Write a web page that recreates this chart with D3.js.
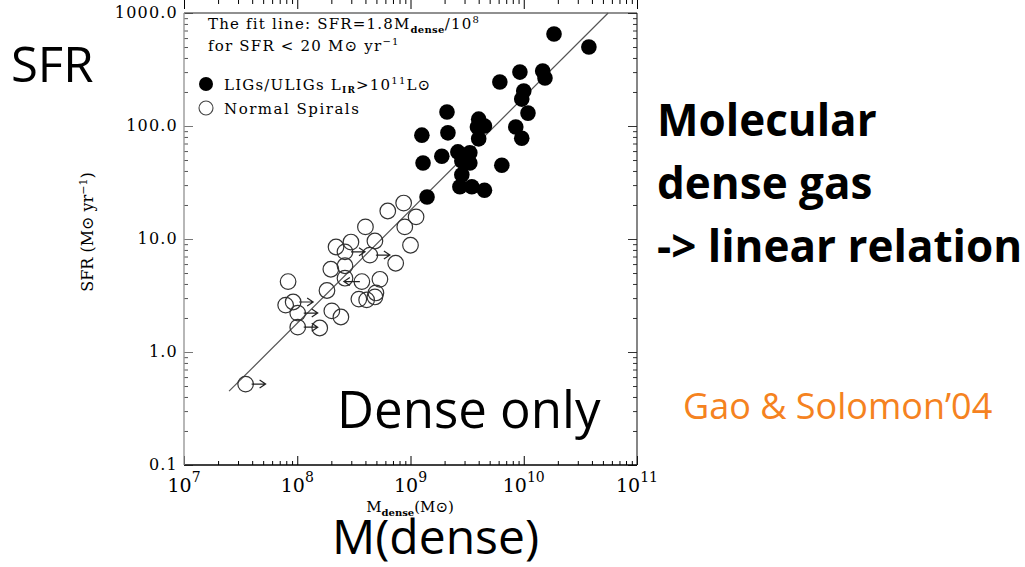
<!DOCTYPE html>
<html>
<head>
<meta charset="utf-8">
<script src="https://cdn.jsdelivr.net/npm/d3@7"></script>
<style>
body { margin: 0; background: #fff; }
svg { display: block; }
</style>
</head>
<body>
<svg id="chart" width="1025" height="567"></svg>
<script>
// LIGs / ULIGs (filled dots)
var ligMass = [1.85e10, 3.76e10, 9.25e9, 1.47e10, 1.54e10, 6.15e9, 1.0e10, 9.6e9, 1.09e10, 2.1e9,
               1.26e9, 2.14e9, 4.0e9, 3.9e9, 4.5e9, 4.0e9, 8.5e9, 9.6e9, 1.29e9, 1.89e9,
               2.62e9, 3.34e9, 2.84e9, 3.34e9, 6.4e9, 2.84e9, 2.73e9, 3.48e9, 4.5e9, 1.40e9];
var ligSfr  = [652, 500, 300, 307, 266, 245, 204, 173, 130, 133,
               83, 87, 115, 98, 100, 77, 98, 78, 47, 54,
               59, 58, 49, 47, 45, 37, 29, 29, 27, 23.5];

// normal spirals (open circles); arrow: 1 = lower limit (points right), -1 = points left
var spiralMass = [8.7e8, 6.3e8, 1.12e9, 8.9e8, 4.0e8, 1.0e9, 2.98e8, 2.2e8, 4.85e8, 2.64e8,
                  4.38e8, 7.4e8, 1.98e8, 2.64e8, 2.64e8, 3.72e8, 5.37e8, 8.3e7, 1.83e8, 3.5e8,
                  4.1e8, 4.85e8, 4.95e8, 7.9e7, 9.2e7, 1.01e8, 2.02e8, 2.43e8, 1.01e8, 1.58e8, 3.5e7];
var spiralSfr  = [20.8, 17.7, 15.7, 12.8, 12.8, 8.8, 9.4, 8.5, 9.6, 7.7,
                  7.2, 6.1, 5.4, 5.8, 4.5, 4.2, 4.4, 4.2, 3.5, 2.94,
                  2.89, 3.07, 3.33, 2.6, 2.77, 2.21, 2.31, 2.04, 1.66, 1.63, 0.52];
var spiralArrow = [0, 0, 0, 0, 0, 0, 0, 0, 0, 1,
                   1, 0, 0, 0, 0, -1, 0, 0, 0, 0,
                   0, 0, 0, 0, 1, 1, 0, 0, 1, 0, 1];

var xTickExps = [7, 8, 9, 10, 11];
var yTickVals = [0.1, 1, 10, 100, 1000];
var yTickLabels = ['0.1', '1.0', '10.0', '100.0', '1000.0'];

// fit: SFR = 1.8 Mdense / 1e8
var fitSlope = 1.8e-8;
var fitMass = [2.5e7, 5.56e10];

var svg = d3.select('#chart');
var serif = '"DejaVu Serif", "Liberation Serif", serif';
var sans = '"Open Sans", "Noto Sans", sans-serif';

var x = d3.scaleLog().domain([1e7, 1e11]).range([184, 637]);
var y = d3.scaleLog().domain([0.1, 1000]).range([465, 13]);

function minorTicks(lo, hi) {
    var out = [];
    for (var e = lo; e < hi; e++)
        for (var k = 2; k <= 9; k++) out.push(k * Math.pow(10, e));
    return out;
}
var xMajor = xTickExps.map(function(e) { return Math.pow(10, e); });
var xMinor = minorTicks(7, 11);
var yMinor = minorTicks(-1, 3);

function drawAxis(axisFn, scale, vals, size, tr, col) {
    var g = svg.append('g').attr('transform', tr)
        .call(axisFn(scale).tickValues(vals).tickSize(size).tickFormat(''));
    g.select('.domain').remove();
    g.selectAll('line').attr('stroke', col).attr('stroke-width', 1);
}

var bottom = 'translate(0,465)', top = 'translate(0,13)';
var left = 'translate(184,0)', right = 'translate(637,0)';
drawAxis(d3.axisBottom, x, xMajor, -9, bottom, '#000');
drawAxis(d3.axisBottom, x, xMinor, -4, bottom, '#000');
drawAxis(d3.axisTop, x, xMajor, -9, top, '#000');
drawAxis(d3.axisTop, x, xMinor, -4, top, '#000');
drawAxis(d3.axisLeft, y, yTickVals, -9, left, '#777');
drawAxis(d3.axisLeft, y, yMinor, -4, left, '#555');
drawAxis(d3.axisRight, y, yTickVals, -9, right, '#333');
drawAxis(d3.axisRight, y, yMinor, -4, right, '#333');

// frame
svg.append('line').attr('x1', 184).attr('x2', 637).attr('y1', 465).attr('y2', 465).attr('stroke', '#000').attr('stroke-width', 1.3);
svg.append('line').attr('x1', 184).attr('x2', 637).attr('y1', 13).attr('y2', 13).attr('stroke', '#222').attr('stroke-width', 1.1);
svg.append('line').attr('x1', 184).attr('x2', 184).attr('y1', 13).attr('y2', 465).attr('stroke', '#999').attr('stroke-width', 1.4);
svg.append('line').attr('x1', 637).attr('x2', 637).attr('y1', 13).attr('y2', 465).attr('stroke', '#222').attr('stroke-width', 1.1);

// y tick labels
svg.selectAll('.ylab').data(yTickVals).enter().append('text')
    .attr('x', 178).attr('y', function(d) { return y(d) + 5; })
    .attr('text-anchor', 'end')
    .style('font-family', serif).style('font-size', '16px').style('letter-spacing', '1.2px')
    .text(function(d, i) { return yTickLabels[i]; });

// x tick labels: 10^n
var xl = svg.selectAll('.xlab').data(xTickExps).enter().append('text')
    .attr('x', function(d) { return x(Math.pow(10, d)); }).attr('y', 492)
    .attr('text-anchor', 'middle')
    .style('font-family', serif).style('font-size', '19px');
xl.append('tspan').text('10');
xl.append('tspan').attr('dy', -10).style('font-size', '14px').text(function(d) { return d; });

// axis titles
var xt = svg.append('text').attr('x', 410).attr('y', 512).attr('text-anchor', 'middle')
    .style('font-family', serif).style('font-size', '15px');
xt.append('tspan').text('M');
xt.append('tspan').attr('dy', 4).style('font-size', '10px').style('font-weight', 'bold').text('dense');
xt.append('tspan').attr('dy', -4).text('(M\u2299)');

var yt = svg.append('text').attr('transform', 'translate(93,232) rotate(-90)').attr('text-anchor', 'middle')
    .style('font-family', serif).style('font-size', '16px');
yt.append('tspan').text('SFR (M\u2299 yr');
yt.append('tspan').attr('dy', -6).style('font-size', '11px').text('\u22121');
yt.append('tspan').attr('dy', 6).text(')');

// fit line
svg.append('line')
    .attr('x1', x(fitMass[0])).attr('y1', y(fitSlope * fitMass[0]))
    .attr('x2', x(fitMass[1])).attr('y2', y(fitSlope * fitMass[1]))
    .attr('stroke', '#555').attr('stroke-width', 1.2);

// spirals
var spirals = spiralMass.map(function(m, i) { return { m: m, s: spiralSfr[i], a: spiralArrow[i] }; });
svg.selectAll('.sp').data(spirals).enter().append('circle')
    .attr('cx', function(d) { return x(d.m); }).attr('cy', function(d) { return y(d.s); })
    .attr('r', 7.8).attr('fill', 'none').attr('stroke', '#333').attr('stroke-width', 1.2);

svg.selectAll('.arr').data(spirals.filter(function(d) { return d.a !== 0; })).enter().append('path')
    .attr('d', function(d) {
        var cx = x(d.m), cy = y(d.s);
        var x0 = d.a > 0 ? cx + 6 : cx - 2;
        var x1 = d.a > 0 ? cx + 20 : cx - 18;
        var h = d.a > 0 ? -6 : 6;
        return 'M' + x0 + ',' + cy + 'L' + x1 + ',' + cy +
            'M' + (x1 + h) + ',' + (cy - 4) + 'L' + x1 + ',' + cy + 'L' + (x1 + h) + ',' + (cy + 4);
    })
    .attr('fill', 'none').attr('stroke', '#222').attr('stroke-width', 1.2);

// LIGs
svg.selectAll('.lig').data(ligMass).enter().append('circle')
    .attr('cx', function(d) { return x(d); }).attr('cy', function(d, i) { return y(ligSfr[i]); })
    .attr('r', 7.8).attr('fill', '#000');

// legend
function legendText(yy) {
    return svg.append('text').attr('x', 208).attr('y', yy)
        .style('font-family', serif).style('font-size', '15px').style('letter-spacing', '1.2px');
}
var l1 = legendText(29);
l1.append('tspan').text('The fit line: SFR=1.8M');
l1.append('tspan').attr('dy', 4).style('font-size', '10px').style('font-weight', 'bold').style('letter-spacing', '0.3px').text('dense');
l1.append('tspan').attr('dy', -4).text('/10');
l1.append('tspan').attr('dy', -6).style('font-size', '10px').text('8');

var l2 = legendText(51);
l2.append('tspan').text('for SFR < 20 M\u2299 yr');
l2.append('tspan').attr('dy', -6).style('font-size', '10px').text('\u22121');

svg.append('circle').attr('cx', 206).attr('cy', 84).attr('r', 7).attr('fill', '#000');
var l3 = legendText(90).attr('x', 224);
l3.append('tspan').text('LIGs/ULIGs L');
l3.append('tspan').attr('dy', 3).style('font-size', '9px').style('font-weight', 'bold').text('IR');
l3.append('tspan').attr('dy', -3).text('>10');
l3.append('tspan').attr('dy', -6).style('font-size', '10px').text('11');
l3.append('tspan').attr('dy', 6).text('L\u2299');

svg.append('circle').attr('cx', 206).attr('cy', 108).attr('r', 7).attr('fill', 'none').attr('stroke', '#444').attr('stroke-width', 1.1);
legendText(114).attr('x', 224).style('letter-spacing', '1.5px').text('Normal Spirals');

// slide annotations
svg.append('text').attr('x', 11).attr('y', 82).style('font-family', sans).style('font-size', '49px').text('SFR');
var mol = ['Molecular', 'dense gas', '-> linear relation'];
svg.selectAll('.mol').data(mol).enter().append('text')
    .attr('x', 657).attr('y', function(d, i) { return 136 + i * 63; })
    .style('font-family', sans).style('font-size', '44px').style('font-weight', 'bold').text(function(d) { return d; });
svg.append('text').attr('x', 683).attr('y', 419).style('font-family', sans).style('font-size', '36px')
    .attr('fill', '#f58220').text('Gao & Solomon\u201904');
svg.append('text').attr('x', 337).attr('y', 428).style('font-family', sans).style('font-size', '51px').text('Dense only');
svg.append('text').attr('x', 332).attr('y', 554).style('font-family', sans).style('font-size', '48px').text('M(dense)');
</script>
</body>
</html>
